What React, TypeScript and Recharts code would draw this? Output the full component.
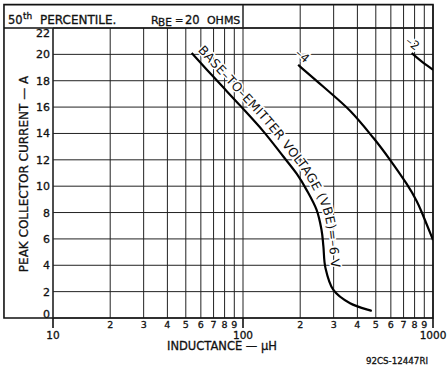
import React from 'react';
import { LineChart, Line, XAxis, YAxis, CartesianGrid, ReferenceArea, ReferenceLine } from 'recharts';

// ---- data ----
const xTicks = [10, 20, 30, 40, 50, 60, 70, 80, 90, 100, 200, 300, 400, 500, 600, 700, 800, 900, 1000];
const xTickLabels = ['10', '2', '3', '4', '5', '6', '7', '8', '9', '100', '2', '3', '4', '5', '6', '7', '8', '9', '1000'];
const xMajors = [10, 100, 1000];
const yTicks = [0, 2, 4, 6, 8, 10, 12, 14, 16, 18, 20, 22];

const vbe6X = [53.7, 72.7, 96.4, 128, 163, 192, 216, 244, 259, 265, 271.6, 299, 366, 476];
const vbe6Y = [20.1, 18.03, 16.13, 14.16, 12.25, 10.93, 9.72, 8.2, 6.68, 5.41, 3.8, 2.13, 1.12, 0.53];
const vbe4X = [195, 265, 366, 485, 594, 727, 820, 889, 1000];
const vbe4Y = [19.2, 17.54, 15.72, 13.67, 12.0, 10.17, 8.88, 7.74, 5.92];
const vbe2X = [772, 870, 1000];
const vbe2Y = [20.1, 19.47, 18.83];

const vbe6Label = 'BASE\u2013TO\u2013EMITTER VOLTAGE (VBE)=\u20136 V';
const vbe4Label = '\u20134';
const vbe2Label = '\u20132';

// frame extents in data units
const FRAME_LEFT = 5.52;
const FRAME_TOP = 23.77;

const zip = (xs: number[], ys: number[]) => xs.map((x, i) => ({ x, y: ys[i] }));
const vbe6 = zip(vbe6X, vbe6Y);
const vbe4 = zip(vbe4X, vbe4Y);
const vbe2 = zip(vbe2X, vbe2Y);

const FONT = 'DejaVu Sans';
const INK = '#111';
const BOLDEN = { stroke: INK, strokeWidth: 0.3 };

// ---- helpers ----
type P = { x: number; y: number };

function catmullSegments(pts: P[], moveTo: (x: number, y: number) => void, bez: (a: number, b: number, c: number, d: number, e: number, f: number) => void) {
  if (!pts.length) return;
  moveTo(pts[0].x, pts[0].y);
  for (let i = 0; i < pts.length - 1; i++) {
    const p0 = pts[i - 1] || pts[i];
    const p1 = pts[i];
    const p2 = pts[i + 1];
    const p3 = pts[i + 2] || p2;
    bez(
      p1.x + (p2.x - p0.x) / 6,
      p1.y + (p2.y - p0.y) / 6,
      p2.x - (p3.x - p1.x) / 6,
      p2.y - (p3.y - p1.y) / 6,
      p2.x,
      p2.y
    );
  }
}

// custom d3-style curve factory (Catmull-Rom through the points)
const catmullCurve: any = (context: any) => {
  let pts: P[] = [];
  return {
    areaStart() {},
    areaEnd() {},
    lineStart() {
      pts = [];
    },
    point(x: number, y: number) {
      pts.push({ x: +x, y: +y });
    },
    lineEnd() {
      if (pts.length === 1) {
        context.moveTo(pts[0].x, pts[0].y);
        return;
      }
      catmullSegments(
        pts,
        (x, y) => context.moveTo(x, y),
        (a, b, c, d, e, f) => context.bezierCurveTo(a, b, c, d, e, f)
      );
    },
  };
};

function smoothPath(pts: P[]) {
  let d = '';
  catmullSegments(
    pts,
    (x, y) => {
      d += `M${x},${y}`;
    },
    (a, b, c, dd, e, f) => {
      d += ` C${a},${b} ${c},${dd} ${e},${f}`;
    }
  );
  return d;
}

function makePathLabelDot(text: string, id: string, n: number, offset: number) {
  const pts: P[] = [];
  return (props: any) => {
    const { cx, cy, index } = props;
    pts[index] = { x: cx, y: cy };
    if (index !== n - 1) return <g key={`d-${id}-${index}`} />;
    const off = pts.map((p, i) => {
      const a = pts[Math.max(0, i - 1)];
      const b = pts[Math.min(pts.length - 1, i + 1)];
      const dx = b.x - a.x;
      const dy = b.y - a.y;
      const len = Math.hypot(dx, dy) || 1;
      return { x: p.x + (dy / len) * offset, y: p.y - (dx / len) * offset };
    });
    return (
      <g key={`d-${id}-${index}`}>
        <path id={id} d={smoothPath(off)} fill="none" stroke="none" />
        <text
          fontFamily={FONT}
          fontSize={12.5}
          letterSpacing={0.3}
          fill={INK}
          stroke="#fff"
          strokeWidth={3}
          paintOrder="stroke"
        >
          <textPath href={`#${id}`} startOffset={2}>
            {text}
          </textPath>
        </text>
      </g>
    );
  };
}

function makeStartLabelDot(text: string, dx: number, dy: number, angle: number) {
  return (props: any) => {
    const { cx, cy, index } = props;
    if (index !== 0) return <g key={`s-${text}-${index}`} />;
    const x = cx + dx;
    const y = cy + dy;
    return (
      <text
        key={`s-${text}-0`}
        x={x}
        y={y}
        transform={`rotate(${angle} ${x} ${y})`}
        fontFamily={FONT}
        fontSize={12}
        fill={INK}
        stroke="#fff"
        strokeWidth={3}
        paintOrder="stroke"
      >
        {text}
      </text>
    );
  };
}

const vbe6Dot = makePathLabelDot(vbe6Label, 'vbe6-path', vbe6.length, 6);
const vbe4Dot = makeStartLabelDot(vbe4Label, -3.5, -10.3, 40);
const vbe2Dot = makeStartLabelDot(vbe2Label, -7, -10.6, 38);

const XTick = (props: any) => {
  const { x, y, payload } = props;
  const v = payload.value;
  const major = xMajors.includes(v);
  const label = xTickLabels[xTicks.indexOf(v)];
  return (
    <g>
      {major && <line x1={x} x2={x} y1={y} y2={y + 10} stroke={INK} strokeWidth={1.6} />}
      <text
        x={x}
        y={y + (major ? 20.5 : 9.8)}
        textAnchor="middle"
        fontFamily={FONT}
        fontSize={major ? 10.5 : 9.5}
        fill={INK}
        {...BOLDEN}
      >
        {label}
      </text>
    </g>
  );
};

const YTick = (props: any) => {
  const { x, y, payload } = props;
  const v = payload.value;
  const shift = v === 0 ? 0 : v === 22 ? 9 : 4;
  return (
    <text x={x} y={y + shift} textAnchor="end" fontFamily={FONT} fontSize={11} fill={INK} {...BOLDEN}>
      {v}
    </text>
  );
};

const YLabel = (props: any) => {
  const vb = props.viewBox || { x: 8, y: 28, width: 45, height: 290 };
  const x = vb.x + 20;
  const y = vb.y + vb.height / 2 + 1;
  return (
    <text
      x={x}
      y={y}
      transform={`rotate(-90 ${x} ${y})`}
      textAnchor="middle"
      fontFamily={FONT}
      fontSize={12}
      fill={INK}
      {...BOLDEN}
    >
      PEAK COLLECTOR CURRENT — A
    </text>
  );
};

const XLabel = (props: any) => {
  const vb = props.viewBox || { x: 53, y: 318, width: 380, height: 52 };
  return (
    <g>
      <text
        x={vb.x + 169}
        y={vb.y + 32}
        textAnchor="middle"
        fontFamily={FONT}
        fontSize={11.5}
        fill={INK}
        {...BOLDEN}
      >
        INDUCTANCE — μH
      </text>
      <text
        x={vb.x + vb.width - 5}
        y={vb.y + 46}
        textAnchor="end"
        fontFamily={FONT}
        fontSize={8.7}
        fill={INK}
        {...BOLDEN}
      >
        92CS-12447RI
      </text>
    </g>
  );
};

const TitleLabel = (props: any) => {
  const vb = props.viewBox || { x: 4, y: 5, width: 239, height: 23 };
  const base = vb.y + 19;
  return (
    <g fontFamily={FONT} fill={INK} stroke={INK} strokeWidth={0.3}>
      <text x={vb.x + 4} y={base} fontSize={11.5}>50</text>
      <text x={vb.x + 19} y={base - 5} fontSize={9}>th</text>
      <text x={vb.x + 36} y={base} fontSize={12}>PERCENTILE.</text>
      <text x={vb.x + 147} y={base} fontSize={11}>R</text>
      <text x={vb.x + 154} y={base + 2} fontSize={10.5}>BE</text>
      <text x={vb.x + 171} y={base} fontSize={10}>=</text>
      <text x={vb.x + 181} y={base} fontSize={11.5}>20</text>
      <text x={vb.x + 203} y={base} fontSize={11}>OHMS</text>
    </g>
  );
};

export default function App() {
  return (
    <div style={{ position: 'absolute', left: 0, top: 0, width: 447, height: 370, background: '#fff' }}>
      <LineChart width={447} height={370} margin={{ top: 28, right: 14, bottom: 0, left: 8 }}>
        <CartesianGrid stroke="#222" strokeWidth={1} />
        <XAxis
          type="number"
          dataKey="x"
          scale="log"
          domain={[10, 1000]}
          allowDataOverflow
          ticks={xTicks}
          interval={0}
          tick={XTick}
          tickLine={false}
          axisLine={false}
          tickSize={0}
          tickMargin={0}
          height={52}
          label={XLabel}
        />
        <YAxis
          type="number"
          domain={[0, 22]}
          ticks={yTicks}
          interval={0}
          tick={YTick}
          tickLine={false}
          axisLine={false}
          tickSize={0}
          tickMargin={3}
          width={45}
          label={YLabel}
        />
        <ReferenceArea
          x1={FRAME_LEFT}
          x2={1000}
          y1={0}
          y2={FRAME_TOP}
          fill="none"
          fillOpacity={0}
          stroke={INK}
          strokeWidth={1.6}
          ifOverflow="visible"
        />
        <ReferenceArea
          x1={FRAME_LEFT}
          x2={100}
          y1={22}
          y2={FRAME_TOP}
          fill="none"
          fillOpacity={0}
          stroke="none"
          ifOverflow="visible"
          label={TitleLabel}
        />
        <ReferenceLine
          segment={[{ x: FRAME_LEFT, y: 22 }, { x: 1000, y: 22 }]}
          stroke={INK}
          strokeWidth={1.4}
          ifOverflow="visible"
        />
        <ReferenceLine x={10} stroke="#222" strokeWidth={1.2} ifOverflow="visible" />
        {xTicks
          .filter((t) => t >= 100)
          .map((t) => (
            <ReferenceLine
              key={`ext-${t}`}
              segment={[{ x: t, y: 22 }, { x: t, y: FRAME_TOP }]}
              stroke="#222"
              strokeWidth={t === 100 || t === 1000 ? 1.5 : 1}
              ifOverflow="visible"
            />
          ))}
        <Line
          data={vbe6}
          dataKey="y"
          type={catmullCurve}
          stroke="#000"
          strokeWidth={2.2}
          dot={vbe6Dot}
          activeDot={false}
          isAnimationActive={false}
        />
        <Line
          data={vbe4}
          dataKey="y"
          type={catmullCurve}
          stroke="#000"
          strokeWidth={2.2}
          dot={vbe4Dot}
          activeDot={false}
          isAnimationActive={false}
        />
        <Line
          data={vbe2}
          dataKey="y"
          type={catmullCurve}
          stroke="#000"
          strokeWidth={2.2}
          dot={vbe2Dot}
          activeDot={false}
          isAnimationActive={false}
        />
      </LineChart>
    </div>
  );
}
